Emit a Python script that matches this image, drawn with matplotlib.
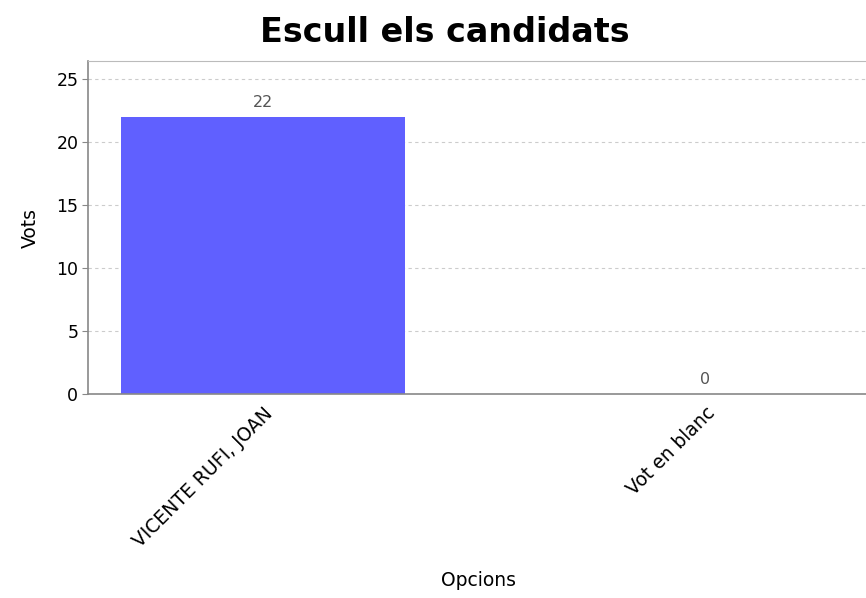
import matplotlib
matplotlib.use("Agg")
import matplotlib.pyplot as plt

categories = ["VICENTE RUFI, JOAN", "Vot en blanc"]
votes = [22, 0]
yticks = [0, 5, 10, 15, 20, 25]

fig = plt.figure(figsize=(8.66, 5.98), dpi=100)
ax = fig.add_axes([88/866, 1 - 394/598, 1 - 88/866, (394 - 61)/598])

x = list(range(len(categories)))
bars = ax.bar(x, votes, width=0.643, color="#6060FF", edgecolor="none", zorder=2)
for xi, v in zip(x, votes):
    ax.annotate(str(v), (xi, v), xytext=(0, 5), textcoords="offset points",
                ha="center", va="bottom", fontsize=11.5, color="#555555")

ax.set_xlim(-0.396, 1.364)
ax.set_ylim(0, 26.43)
ax.set_yticks(yticks)
ax.set_yticklabels([str(t) for t in yticks], fontsize=12.5)
ax.set_xticks(x)
ax.set_xticklabels(categories, rotation=45, ha="right", rotation_mode="anchor", fontsize=13.5)
ax.tick_params(axis="x", length=0, pad=7)
ax.tick_params(axis="y", length=4, color="#888888", pad=3)
ax.yaxis.grid(True, linestyle=(0, (3, 3)), color="#cccccc", linewidth=0.8, zorder=0)
ax.set_axisbelow(True)
for s in ["left", "bottom"]:
    ax.spines[s].set_color("#888888")
    ax.spines[s].set_linewidth(1.2)
ax.spines["top"].set_color("#bbbbbb")
ax.spines["right"].set_visible(False)

ax.set_ylabel("Vots", fontsize=13.5, labelpad=12)
fig.text(478/866, 1 - 580/598, "Opcions", ha="center", va="center", fontsize=13.5)
fig.text(445/866, 1 - 32/598, "Escull els candidats", ha="center", va="center",
         fontsize=24, fontweight="bold")

fig.savefig("out.png", dpi=100)
